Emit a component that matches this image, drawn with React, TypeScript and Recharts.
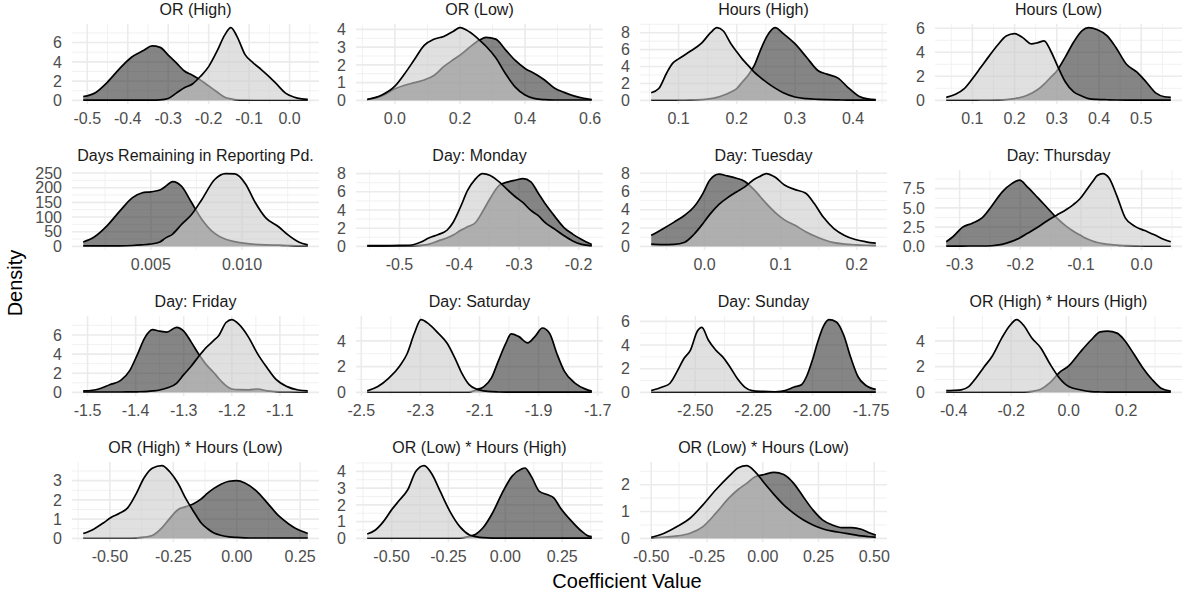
import React from 'react';
import { ComposedChart, Area, XAxis, YAxis, CartesianGrid } from 'recharts';

// posterior draws of each coefficient, two groups per facet (dark drawn first, light on top)
const orHighX = [-0.51, -0.48, -0.45, -0.42, -0.39, -0.36, -0.34, -0.32, -0.3, -0.28, -0.26, -0.24, -0.22, -0.2, -0.18, -0.16, -0.145, -0.13, -0.11, -0.09, -0.07, -0.05, -0.03, -0.01, 0.01, 0.03, 0.045];
const orHighDark = [0.4, 0.8, 1.9, 3.3, 4.5, 5.2, 5.65, 5.5, 4.7, 3.9, 3.05, 2.6, 2.1, 1.5, 0.9, 0.32, 0.15, 0.05, 0.02, 0.01, 0.01, 0.01, 0.01, 0.01, 0.01, 0.01, 0.01];
const orHighLight = [0.02, 0.02, 0.02, 0.02, 0.02, 0.02, 0.02, 0.05, 0.2, 0.75, 1.3, 1.7, 2.5, 3.5, 5.05, 6.8, 7.55, 6.65, 4.75, 3.9, 3.2, 2.45, 1.6, 0.75, 0.35, 0.15, 0.1];
const orHighXLab = ['-0.5', '-0.4', '-0.3', '-0.2', '-0.1', '0.0'];
const orHighYLab = ['0', '2', '4', '6'];

const orLowX = [-0.085, -0.04, 0.0, 0.03, 0.06, 0.09, 0.12, 0.15, 0.18, 0.2, 0.23, 0.26, 0.28, 0.31, 0.34, 0.37, 0.4, 0.43, 0.46, 0.49, 0.52, 0.55, 0.58, 0.605];
const orLowDark = [0.05, 0.25, 0.65, 0.85, 1.0, 1.15, 1.4, 1.9, 2.3, 2.55, 3.0, 3.4, 3.55, 3.45, 2.85, 2.25, 1.8, 1.5, 1.15, 0.7, 0.45, 0.25, 0.12, 0.05];
const orLowLight = [0.05, 0.3, 0.8, 1.5, 2.3, 3.1, 3.45, 3.6, 3.9, 4.1, 3.85, 3.4, 3.05, 2.4, 1.5, 0.75, 0.3, 0.1, 0.04, 0.02, 0.02, 0.02, 0.02, 0.02];
const orLowXLab = ['0.0', '0.2', '0.4', '0.6'];
const orLowYLab = ['0', '1', '2', '3', '4'];

const hoursHighX = [0.053, 0.066, 0.08, 0.09, 0.1, 0.12, 0.14, 0.155, 0.166, 0.177, 0.19, 0.2, 0.21, 0.22, 0.23, 0.24, 0.252, 0.266, 0.28, 0.3, 0.32, 0.34, 0.355, 0.375, 0.39, 0.41, 0.425, 0.439];
const hoursHighDark = [0.02, 0.02, 0.03, 0.03, 0.04, 0.05, 0.1, 0.2, 0.35, 0.6, 1.0, 1.4, 2.2, 3.0, 4.1, 5.8, 7.6, 8.6, 7.9, 6.7, 5.1, 3.5, 3.1, 2.6, 1.6, 0.5, 0.18, 0.1];
const hoursHighLight = [0.9, 1.4, 3.3, 4.4, 4.9, 5.8, 6.8, 8.0, 8.6, 8.2, 6.7, 5.75, 4.85, 4.1, 3.35, 2.75, 2.1, 1.45, 0.9, 0.4, 0.2, 0.12, 0.08, 0.05, 0.03, 0.03, 0.03, 0.03];
const hoursHighXLab = ['0.1', '0.2', '0.3', '0.4'];
const hoursHighYLab = ['0', '2', '4', '6', '8'];

const hoursLowX = [0.038, 0.06, 0.08, 0.1, 0.12, 0.14, 0.16, 0.18, 0.2, 0.22, 0.24, 0.255, 0.27, 0.285, 0.3, 0.32, 0.34, 0.36, 0.375, 0.395, 0.42, 0.44, 0.465, 0.49, 0.51, 0.535, 0.555, 0.57];
const hoursLowDark = [0.02, 0.02, 0.02, 0.02, 0.03, 0.03, 0.04, 0.07, 0.15, 0.3, 0.6, 0.9, 1.35, 1.9, 2.45, 3.6, 4.85, 5.8, 6.05, 5.9, 5.35, 4.4, 3.0, 2.35, 1.6, 0.6, 0.3, 0.25];
const hoursLowLight = [0.25, 0.5, 0.95, 1.8, 2.75, 3.7, 4.6, 5.35, 5.55, 5.2, 4.7, 4.8, 4.95, 4.15, 3.0, 1.55, 0.7, 0.35, 0.15, 0.08, 0.05, 0.03, 0.02, 0.02, 0.02, 0.02, 0.02, 0.02];
const hoursLowXLab = ['0.1', '0.2', '0.3', '0.4', '0.5'];
const hoursLowYLab = ['0', '2', '4', '6'];

const daysX = [0.0013, 0.0019, 0.0026, 0.0033, 0.004, 0.0045, 0.005, 0.0055, 0.0058, 0.0062, 0.0067, 0.0072, 0.0078, 0.0085, 0.0091, 0.0096, 0.0102, 0.0107, 0.0113, 0.012, 0.0125, 0.0131, 0.0136];
const daysDark = [15, 32, 70, 120, 166, 182, 186, 192, 204, 221, 204, 153, 92, 44, 24, 16, 10, 7, 5, 4, 3, 2, 2];
const daysLight = [2, 2, 2, 2, 3, 5, 8, 15, 28, 42, 76, 106, 160, 228, 248, 247, 212, 152, 97, 67, 40, 15, 5];
const daysXLab = ['0.005', '0.010'];
const daysYLab = ['0', '50', '100', '150', '200', '250'];

const monX = [-0.554, -0.53, -0.5, -0.48, -0.465, -0.45, -0.435, -0.42, -0.41, -0.398, -0.386, -0.373, -0.361, -0.348, -0.333, -0.318, -0.305, -0.293, -0.28, -0.268, -0.255, -0.24, -0.225, -0.21, -0.195, -0.178];
const monDark = [0.03, 0.03, 0.04, 0.05, 0.1, 0.25, 0.6, 0.95, 1.25, 1.75, 2.15, 2.6, 3.8, 5.3, 6.7, 7.1, 7.3, 7.45, 7.1, 5.9, 4.6, 3.3, 2.1, 1.35, 0.75, 0.2];
const monLight = [0.08, 0.08, 0.1, 0.15, 0.45, 0.95, 1.3, 1.8, 2.65, 4.3, 6.15, 7.4, 8.0, 7.8, 7.1, 6.15, 5.4, 4.8, 3.95, 3.4, 2.55, 1.9, 1.2, 0.6, 0.22, 0.05];
const monXLab = ['-0.5', '-0.4', '-0.3', '-0.2'];
const monYLab = ['0', '2', '4', '6', '8'];

const tueX = [-0.07, -0.055, -0.04, -0.026, -0.014, -0.002, 0.007, 0.019, 0.03, 0.042, 0.053, 0.065, 0.073, 0.081, 0.093, 0.105, 0.119, 0.133, 0.144, 0.156, 0.17, 0.184, 0.198, 0.212, 0.225];
const tueDark = [1.2, 1.9, 2.65, 3.4, 4.3, 5.8, 7.25, 7.9, 7.7, 7.45, 7.1, 6.2, 5.45, 4.7, 3.7, 2.9, 2.3, 1.6, 1.15, 0.75, 0.4, 0.25, 0.17, 0.12, 0.1];
const tueLight = [0.25, 0.2, 0.22, 0.45, 1.3, 2.5, 3.5, 4.6, 5.3, 5.95, 6.5, 7.3, 7.65, 7.95, 7.55, 6.7, 6.2, 5.8, 4.7, 3.2, 1.95, 1.2, 0.75, 0.5, 0.35];
const tueXLab = ['0.0', '0.1', '0.2'];
const tueYLab = ['0', '2', '4', '6', '8'];

const thuX = [-0.322, -0.311, -0.295, -0.279, -0.263, -0.247, -0.23, -0.214, -0.201, -0.188, -0.172, -0.156, -0.14, -0.124, -0.113, -0.102, -0.092, -0.081, -0.073, -0.064, -0.054, -0.041, -0.027, -0.011, 0.005, 0.021, 0.037, 0.048];
const thuDark = [0.6, 1.25, 2.5, 3.0, 3.7, 5.25, 7.05, 8.15, 8.6, 7.7, 6.4, 5.05, 3.7, 2.6, 2.0, 1.5, 1.05, 0.7, 0.5, 0.35, 0.25, 0.15, 0.1, 0.06, 0.04, 0.03, 0.03, 0.03];
const thuLight = [0.03, 0.03, 0.04, 0.05, 0.05, 0.08, 0.25, 0.65, 1.1, 1.7, 2.45, 3.3, 4.05, 4.8, 5.4, 6.15, 7.2, 8.4, 9.2, 9.45, 8.9, 6.6, 3.7, 2.6, 2.05, 1.5, 0.9, 0.6];
const thuXLab = ['-0.3', '-0.2', '-0.1', '0.0'];
const thuYLab = ['0.0', '2.5', '5.0', '7.5'];

const friX = [-1.509, -1.49, -1.477, -1.454, -1.431, -1.412, -1.396, -1.381, -1.365, -1.35, -1.335, -1.315, -1.3, -1.285, -1.269, -1.254, -1.238, -1.227, -1.212, -1.2, -1.185, -1.165, -1.146, -1.127, -1.108, -1.085, -1.062, -1.042];
const friDark = [0.15, 0.22, 0.35, 0.8, 1.25, 2.3, 4.0, 5.7, 6.55, 6.4, 6.3, 6.8, 6.4, 5.3, 4.0, 2.95, 2.1, 1.45, 0.7, 0.35, 0.28, 0.27, 0.35, 0.15, 0.08, 0.05, 0.03, 0.03];
const friLight = [0.04, 0.04, 0.04, 0.04, 0.04, 0.05, 0.06, 0.08, 0.15, 0.25, 0.45, 0.95, 1.85, 2.7, 3.75, 4.65, 5.4, 5.95, 7.3, 7.6, 7.1, 5.75, 4.0, 2.6, 1.35, 0.6, 0.25, 0.15];
const friXLab = ['-1.5', '-1.4', '-1.3', '-1.2', '-1.1'];
const friYLab = ['0', '2', '4', '6'];

const satX = [-2.48, -2.444, -2.407, -2.37, -2.345, -2.321, -2.298, -2.271, -2.24, -2.209, -2.184, -2.16, -2.135, -2.11, -2.085, -2.06, -2.036, -2.011, -1.993, -1.968, -1.937, -1.912, -1.887, -1.863, -1.838, -1.813, -1.776, -1.741, -1.72];
const satDark = [0.02, 0.02, 0.02, 0.02, 0.02, 0.02, 0.02, 0.02, 0.02, 0.02, 0.02, 0.02, 0.02, 0.2, 0.45, 1.1, 2.45, 3.8, 4.55, 4.35, 3.85, 4.35, 5.0, 4.6, 3.0, 1.65, 0.7, 0.25, 0.1];
const satLight = [0.12, 0.45, 1.1, 2.05, 3.0, 4.55, 5.65, 5.3, 4.6, 3.8, 2.7, 1.5, 0.6, 0.25, 0.12, 0.05, 0.03, 0.02, 0.02, 0.02, 0.02, 0.02, 0.02, 0.02, 0.02, 0.02, 0.02, 0.02, 0.02];
const satXLab = ['-2.5', '-2.3', '-2.1', '-1.9', '-1.7'];
const satYLab = ['0', '2', '4'];

const sunX = [-2.688, -2.641, -2.609, -2.578, -2.547, -2.52, -2.492, -2.472, -2.445, -2.414, -2.383, -2.352, -2.32, -2.289, -2.258, -2.211, -2.16, -2.117, -2.078, -2.047, -2.023, -2.0, -1.977, -1.953, -1.93, -1.898, -1.867, -1.836, -1.805, -1.773, -1.73];
const sunDark = [0.02, 0.02, 0.02, 0.02, 0.02, 0.02, 0.02, 0.02, 0.02, 0.02, 0.02, 0.02, 0.02, 0.02, 0.02, 0.02, 0.05, 0.15, 0.45, 0.65, 1.45, 2.75, 4.3, 5.6, 6.15, 5.95, 4.85, 2.9, 1.3, 0.6, 0.25];
const sunLight = [0.15, 0.45, 0.75, 1.75, 2.9, 3.6, 5.15, 5.5, 4.45, 3.6, 3.0, 2.15, 1.15, 0.45, 0.15, 0.08, 0.04, 0.03, 0.02, 0.02, 0.02, 0.02, 0.02, 0.02, 0.02, 0.02, 0.02, 0.02, 0.02, 0.02, 0.02];
const sunXLab = ['-2.50', '-2.25', '-2.00', '-1.75'];
const sunYLab = ['0', '2', '4', '6'];

const hhX = [-0.426, -0.4, -0.374, -0.348, -0.323, -0.297, -0.265, -0.232, -0.206, -0.181, -0.155, -0.129, -0.097, -0.065, -0.032, 0.0, 0.039, 0.077, 0.11, 0.135, 0.168, 0.194, 0.226, 0.258, 0.29, 0.323, 0.355];
const hhDark = [0.02, 0.02, 0.02, 0.02, 0.02, 0.02, 0.02, 0.02, 0.02, 0.02, 0.02, 0.08, 0.25, 0.75, 1.55, 2.05, 3.1, 4.05, 4.7, 4.75, 4.6, 4.05, 3.0, 1.9, 1.0, 0.3, 0.1];
const hhLight = [0.13, 0.15, 0.2, 0.45, 1.1, 1.9, 2.85, 4.25, 5.15, 5.65, 5.15, 4.25, 3.45, 2.2, 1.1, 0.45, 0.2, 0.06, 0.03, 0.02, 0.02, 0.02, 0.02, 0.02, 0.02, 0.02, 0.02];
const hhXLab = ['-0.4', '-0.2', '0.0', '0.2'];
const hhYLab = ['0', '2', '4'];

const hlX = [-0.605, -0.564, -0.526, -0.494, -0.462, -0.429, -0.397, -0.365, -0.333, -0.295, -0.263, -0.231, -0.2, -0.17, -0.14, -0.115, -0.09, -0.06, -0.03, 0.0, 0.032, 0.077, 0.122, 0.167, 0.205, 0.231, 0.255, 0.28];
const hlDark = [0.02, 0.02, 0.02, 0.02, 0.02, 0.02, 0.03, 0.06, 0.15, 0.55, 1.05, 1.5, 1.65, 1.8, 2.05, 2.35, 2.6, 2.83, 2.97, 3.0, 2.88, 2.47, 1.82, 1.15, 0.75, 0.53, 0.38, 0.25];
const hlLight = [0.25, 0.48, 0.8, 1.1, 1.3, 1.6, 2.3, 3.15, 3.65, 3.78, 3.45, 2.85, 2.05, 1.4, 0.8, 0.5, 0.28, 0.15, 0.08, 0.05, 0.03, 0.02, 0.02, 0.02, 0.02, 0.02, 0.02, 0.02];
const hlXLab = ['-0.50', '-0.25', '0.00', '0.25'];
const hlYLab = ['0', '1', '2', '3'];

const lhX = [-0.607, -0.571, -0.536, -0.5, -0.464, -0.429, -0.393, -0.357, -0.321, -0.286, -0.243, -0.2, -0.157, -0.13, -0.1, -0.057, -0.014, 0.029, 0.071, 0.086, 0.114, 0.15, 0.186, 0.214, 0.243, 0.286, 0.329, 0.364, 0.38];
const lhDark = [0.02, 0.02, 0.02, 0.02, 0.02, 0.02, 0.02, 0.02, 0.02, 0.02, 0.02, 0.02, 0.13, 0.25, 0.6, 1.5, 2.7, 3.7, 4.14, 4.2, 3.7, 2.8, 2.6, 2.4, 1.8, 1.1, 0.5, 0.15, 0.1];
const lhLight = [0.26, 0.5, 1.0, 1.7, 2.3, 2.9, 4.0, 4.34, 3.8, 2.8, 1.6, 0.7, 0.2, 0.1, 0.04, 0.02, 0.02, 0.02, 0.02, 0.02, 0.02, 0.02, 0.02, 0.02, 0.02, 0.02, 0.02, 0.02, 0.02];
const lhXLab = ['-0.50', '-0.25', '0.00', '0.25'];
const lhYLab = ['0', '1', '2', '3', '4'];

const llX = [-0.5, -0.442, -0.384, -0.326, -0.268, -0.21, -0.152, -0.109, -0.072, -0.036, 0.007, 0.051, 0.094, 0.138, 0.181, 0.225, 0.268, 0.312, 0.355, 0.399, 0.442, 0.478, 0.507];
const llDark = [0.02, 0.05, 0.09, 0.19, 0.44, 0.94, 1.5, 1.83, 2.05, 2.29, 2.38, 2.46, 2.38, 2.06, 1.56, 1.06, 0.69, 0.5, 0.4, 0.4, 0.34, 0.21, 0.12];
const llLight = [0.04, 0.19, 0.44, 0.75, 1.25, 1.81, 2.31, 2.63, 2.71, 2.5, 2.06, 1.63, 1.25, 0.94, 0.69, 0.5, 0.36, 0.27, 0.21, 0.15, 0.09, 0.06, 0.04];
const llXLab = ['-0.50', '-0.25', '0.00', '0.25', '0.50'];
const llYLab = ['0', '1', '2'];

const panels = [
  { title: 'OR (High)', x: orHighX, dark: orHighDark, light: orHighLight, xLab: orHighXLab, yLab: orHighYLab },
  { title: 'OR (Low)', x: orLowX, dark: orLowDark, light: orLowLight, xLab: orLowXLab, yLab: orLowYLab },
  { title: 'Hours (High)', x: hoursHighX, dark: hoursHighDark, light: hoursHighLight, xLab: hoursHighXLab, yLab: hoursHighYLab },
  { title: 'Hours (Low)', x: hoursLowX, dark: hoursLowDark, light: hoursLowLight, xLab: hoursLowXLab, yLab: hoursLowYLab },
  { title: 'Days Remaining in Reporting Pd.', x: daysX, dark: daysDark, light: daysLight, xLab: daysXLab, yLab: daysYLab },
  { title: 'Day: Monday', x: monX, dark: monDark, light: monLight, xLab: monXLab, yLab: monYLab },
  { title: 'Day: Tuesday', x: tueX, dark: tueDark, light: tueLight, xLab: tueXLab, yLab: tueYLab },
  { title: 'Day: Thursday', x: thuX, dark: thuDark, light: thuLight, xLab: thuXLab, yLab: thuYLab },
  { title: 'Day: Friday', x: friX, dark: friDark, light: friLight, xLab: friXLab, yLab: friYLab },
  { title: 'Day: Saturday', x: satX, dark: satDark, light: satLight, xLab: satXLab, yLab: satYLab },
  { title: 'Day: Sunday', x: sunX, dark: sunDark, light: sunLight, xLab: sunXLab, yLab: sunYLab },
  { title: 'OR (High) * Hours (High)', x: hhX, dark: hhDark, light: hhLight, xLab: hhXLab, yLab: hhYLab },
  { title: 'OR (High) * Hours (Low)', x: hlX, dark: hlDark, light: hlLight, xLab: hlXLab, yLab: hlYLab },
  { title: 'OR (Low) * Hours (High)', x: lhX, dark: lhDark, light: lhLight, xLab: lhXLab, yLab: lhYLab },
  { title: 'OR (Low) * Hours (Low)', x: llX, dark: llDark, light: llLight, xLab: llXLab, yLab: llYLab },
];

const FONT = '"Liberation Sans", Arial, Helvetica, sans-serif';
const COL_LEFT = [72, 356, 640, 935];
const ROW_TOP = [24, 170, 316, 462];
const PW = 247;
const PH = 80;
const YW = 60;
const XH = 34;
const MT = 12; // room for the top tick label
const MR = 24; // room for the last x tick label

// ggplot-style minor breaks: halfway between majors, kept inside the panel
const minorBreaks = (ticks: number[], lo: number, hi: number) => {
  const s = ticks[1] - ticks[0];
  const out: number[] = [];
  for (let v = ticks[0] - s / 2; v <= hi; v += s) if (v >= lo) out.push(v);
  return out;
};

const Panel = ({ p, left, top }: { p: any; left: number; top: number }) => {
  const data = p.x.map((x: number, i: number) => ({ x, dark: p.dark[i], light: p.light[i] }));
  const xMin = p.x[0];
  const xMax = p.x[p.x.length - 1];
  const xr = xMax - xMin;
  const yMax = Math.max(...p.dark, ...p.light);
  const xDom = [xMin - 0.05 * xr, xMax + 0.05 * xr];
  const yDom = [-0.05 * yMax, 1.05 * yMax];
  const xTicks = p.xLab.map(Number);
  const yTicks = p.yLab.map(Number);
  const tickStyle = { fill: '#4d4d4d', fontSize: 16, fontFamily: FONT };
  const w = PW + YW + MR;
  const h = PH + XH + MT;

  return (
    <>
      <div
        style={{
          position: 'absolute',
          left,
          top: top - 24,
          width: PW,
          height: 20,
          lineHeight: '20px',
          textAlign: 'center',
          fontSize: 16,
          color: '#1a1a1a',
          fontFamily: FONT,
          whiteSpace: 'nowrap',
        }}
      >
        {p.title}
      </div>
      <div style={{ position: 'absolute', left: left - YW, top: top - MT, width: w, height: h }}>
        <ComposedChart width={w} height={h} data={data} margin={{ top: MT, right: MR, bottom: 0, left: 0 }}>
          <CartesianGrid
            horizontalValues={minorBreaks(yTicks, yDom[0], yDom[1])}
            verticalValues={minorBreaks(xTicks, xDom[0], xDom[1])}
            stroke="#ededed"
            strokeWidth={0.8}
          />
          <CartesianGrid horizontalValues={yTicks} verticalValues={xTicks} stroke="#ebebeb" strokeWidth={1.6} />
          <XAxis
            type="number"
            dataKey="x"
            domain={xDom}
            allowDataOverflow
            ticks={xTicks}
            interval={0}
            tickFormatter={(v: number, i: number) => p.xLab[i]}
            axisLine={false}
            tickLine={false}
            tickSize={0}
            tickMargin={9}
            height={XH}
            tick={tickStyle}
          />
          <YAxis
            type="number"
            domain={yDom}
            allowDataOverflow
            ticks={yTicks}
            interval={0}
            tickFormatter={(v: number, i: number) => p.yLab[i]}
            axisLine={false}
            tickLine={false}
            tickSize={0}
            tickMargin={10}
            width={YW}
            tick={tickStyle}
          />
          <Area
            type="monotone"
            dataKey="dark"
            baseValue={0}
            fill="#333333"
            fillOpacity={0.6}
            stroke="#000000"
            strokeWidth={1.7}
            dot={false}
            activeDot={false}
            isAnimationActive={false}
          />
          <Area
            type="monotone"
            dataKey="light"
            baseValue={0}
            fill="#cccccc"
            fillOpacity={0.6}
            stroke="#000000"
            strokeWidth={1.7}
            dot={false}
            activeDot={false}
            isAnimationActive={false}
          />
        </ComposedChart>
      </div>
    </>
  );
};

export default function App() {
  return (
    <div
      style={{
        position: 'absolute',
        left: 0,
        top: 0,
        width: 1186,
        height: 596,
        background: '#ffffff',
        fontFamily: FONT,
        overflow: 'hidden',
      }}
    >
      {panels.map((p, i) => (
        <Panel key={p.title} p={p} left={COL_LEFT[i % 4]} top={ROW_TOP[Math.floor(i / 4)]} />
      ))}
      <div
        style={{
          position: 'absolute',
          left: 15 - 100,
          top: 283 - 13,
          width: 200,
          height: 26,
          lineHeight: '26px',
          textAlign: 'center',
          fontSize: 20,
          color: '#000',
          transform: 'rotate(-90deg)',
        }}
      >
        Density
      </div>
      <div
        style={{
          position: 'absolute',
          left: 72,
          top: 581 - 13,
          width: 1182 - 72,
          height: 26,
          lineHeight: '26px',
          textAlign: 'center',
          fontSize: 20,
          color: '#000',
        }}
      >
        Coefficient Value
      </div>
    </div>
  );
}
